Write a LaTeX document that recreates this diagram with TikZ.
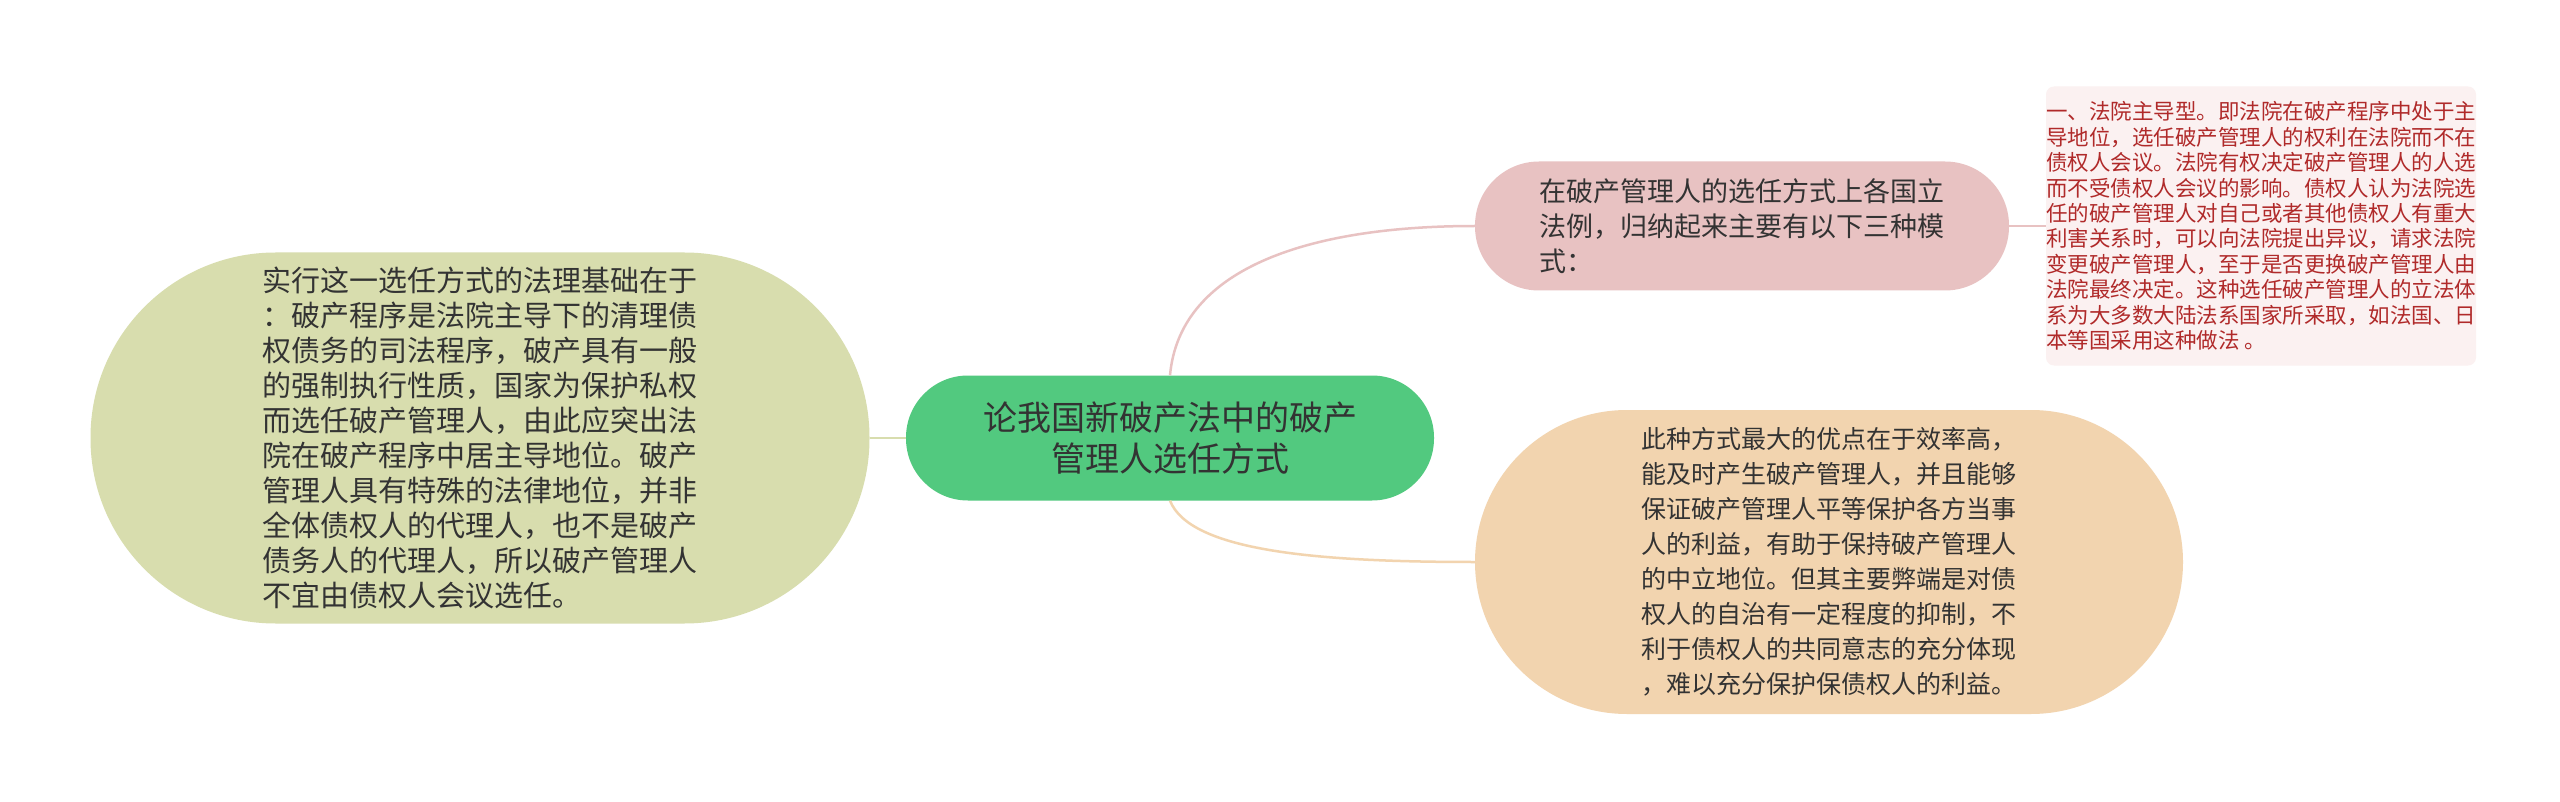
\documentclass[tikz,border=0pt]{standalone}
\usepackage{fontspec}
\setmainfont{Noto Sans CJK SC}
\begin{document}
\begin{tikzpicture}[x=1pt,y=-1pt,
  box/.style={draw=none,align=left,inner sep=0pt},
  link/.style={line width=2.5pt}]
\definecolor{cgreen}{HTML}{52C97F}
\definecolor{cleft}{HTML}{D8DDAE}
\definecolor{cpink}{HTML}{E8C2C2}
\definecolor{cpale}{HTML}{FBF1F1}
\definecolor{ctan}{HTML}{F2D4AF}
\definecolor{cred}{HTML}{B02A2A}
\definecolor{ctext}{HTML}{333333}
\useasboundingbox (0,0) rectangle (2560,802);
\fill[white] (0,0) rectangle (2560,802);
\node[box,fill=cgreen,rounded corners=62pt,minimum width=528pt,minimum height=125pt,align=center,text=ctext,font=\fontsize{34}{41}\selectfont] (c) at (1170,438) {论我国新破产法中的破产\\管理人选任方式};
\node[box,fill=cleft,rounded corners=185pt,minimum width=779pt,minimum height=371pt,text=ctext,font=\fontsize{29}{35}\selectfont] (l) at (480,438) {实行这一选任方式的法理基础在于\\：破产程序是法院主导下的清理债\\权债务的司法程序，破产具有一般\\的强制执行性质，国家为保护私权\\而选任破产管理人，由此应突出法\\院在破产程序中居主导地位。破产\\管理人具有特殊的法律地位，并非\\全体债权人的代理人，也不是破产\\债务人的代理人，所以破产管理人\\不宜由债权人会议选任。};
\node[box,fill=cpink,rounded corners=64pt,minimum width=534pt,minimum height=129pt,text=ctext,font=\fontsize{27}{35}\selectfont] (tr) at (1742,226) {在破产管理人的选任方式上各国立\\法例，归纳起来主要有以下三种模\\式：};
\node[box,fill=cpale,rounded corners=8pt,minimum width=425pt,minimum height=279pt,text=cred,font=\fontsize{21.5}{25.4}\selectfont] (fr) at (2261,226) {一、法院主导型。即法院在破产程序中处于主\\导地位，选任破产管理人的权利在法院而不在\\债权人会议。法院有权决定破产管理人的人选\\而不受债权人会议的影响。债权人认为法院选\\任的破产管理人对自己或者其他债权人有重大\\利害关系时，可以向法院提出异议，请求法院\\变更破产管理人，至于是否更换破产管理人由\\法院最终决定。这种选任破产管理人的立法体\\系为大多数大陆法系国家所采取，如法国、日\\本等国采用这种做法 。};
\node[box,fill=ctan,rounded corners=152pt,minimum width=708pt,minimum height=304pt,text=ctext,font=\fontsize{25}{35}\selectfont] (br) at (1829,562) {此种方式最大的优点在于效率高，\\能及时产生破产管理人，并且能够\\保证破产管理人平等保护各方当事\\人的利益，有助于保持破产管理人\\的中立地位。但其主要弊端是对债\\权人的自治有一定程度的抑制，不\\利于债权人的共同意志的充分体现\\，难以充分保护保债权人的利益。};
\draw[link,draw=cleft] (l.east) -- (c.west);
\draw[link,draw=cpink] (c.north) .. controls +(10,-110) and +(-160,0) .. (tr.west);
\draw[link,draw=ctan] (c.south) .. controls +(20,50) and +(-160,0) .. (br.west);
\draw[link,draw=cpink] (tr.east) -- (fr.west);
\end{tikzpicture}
\end{document}
